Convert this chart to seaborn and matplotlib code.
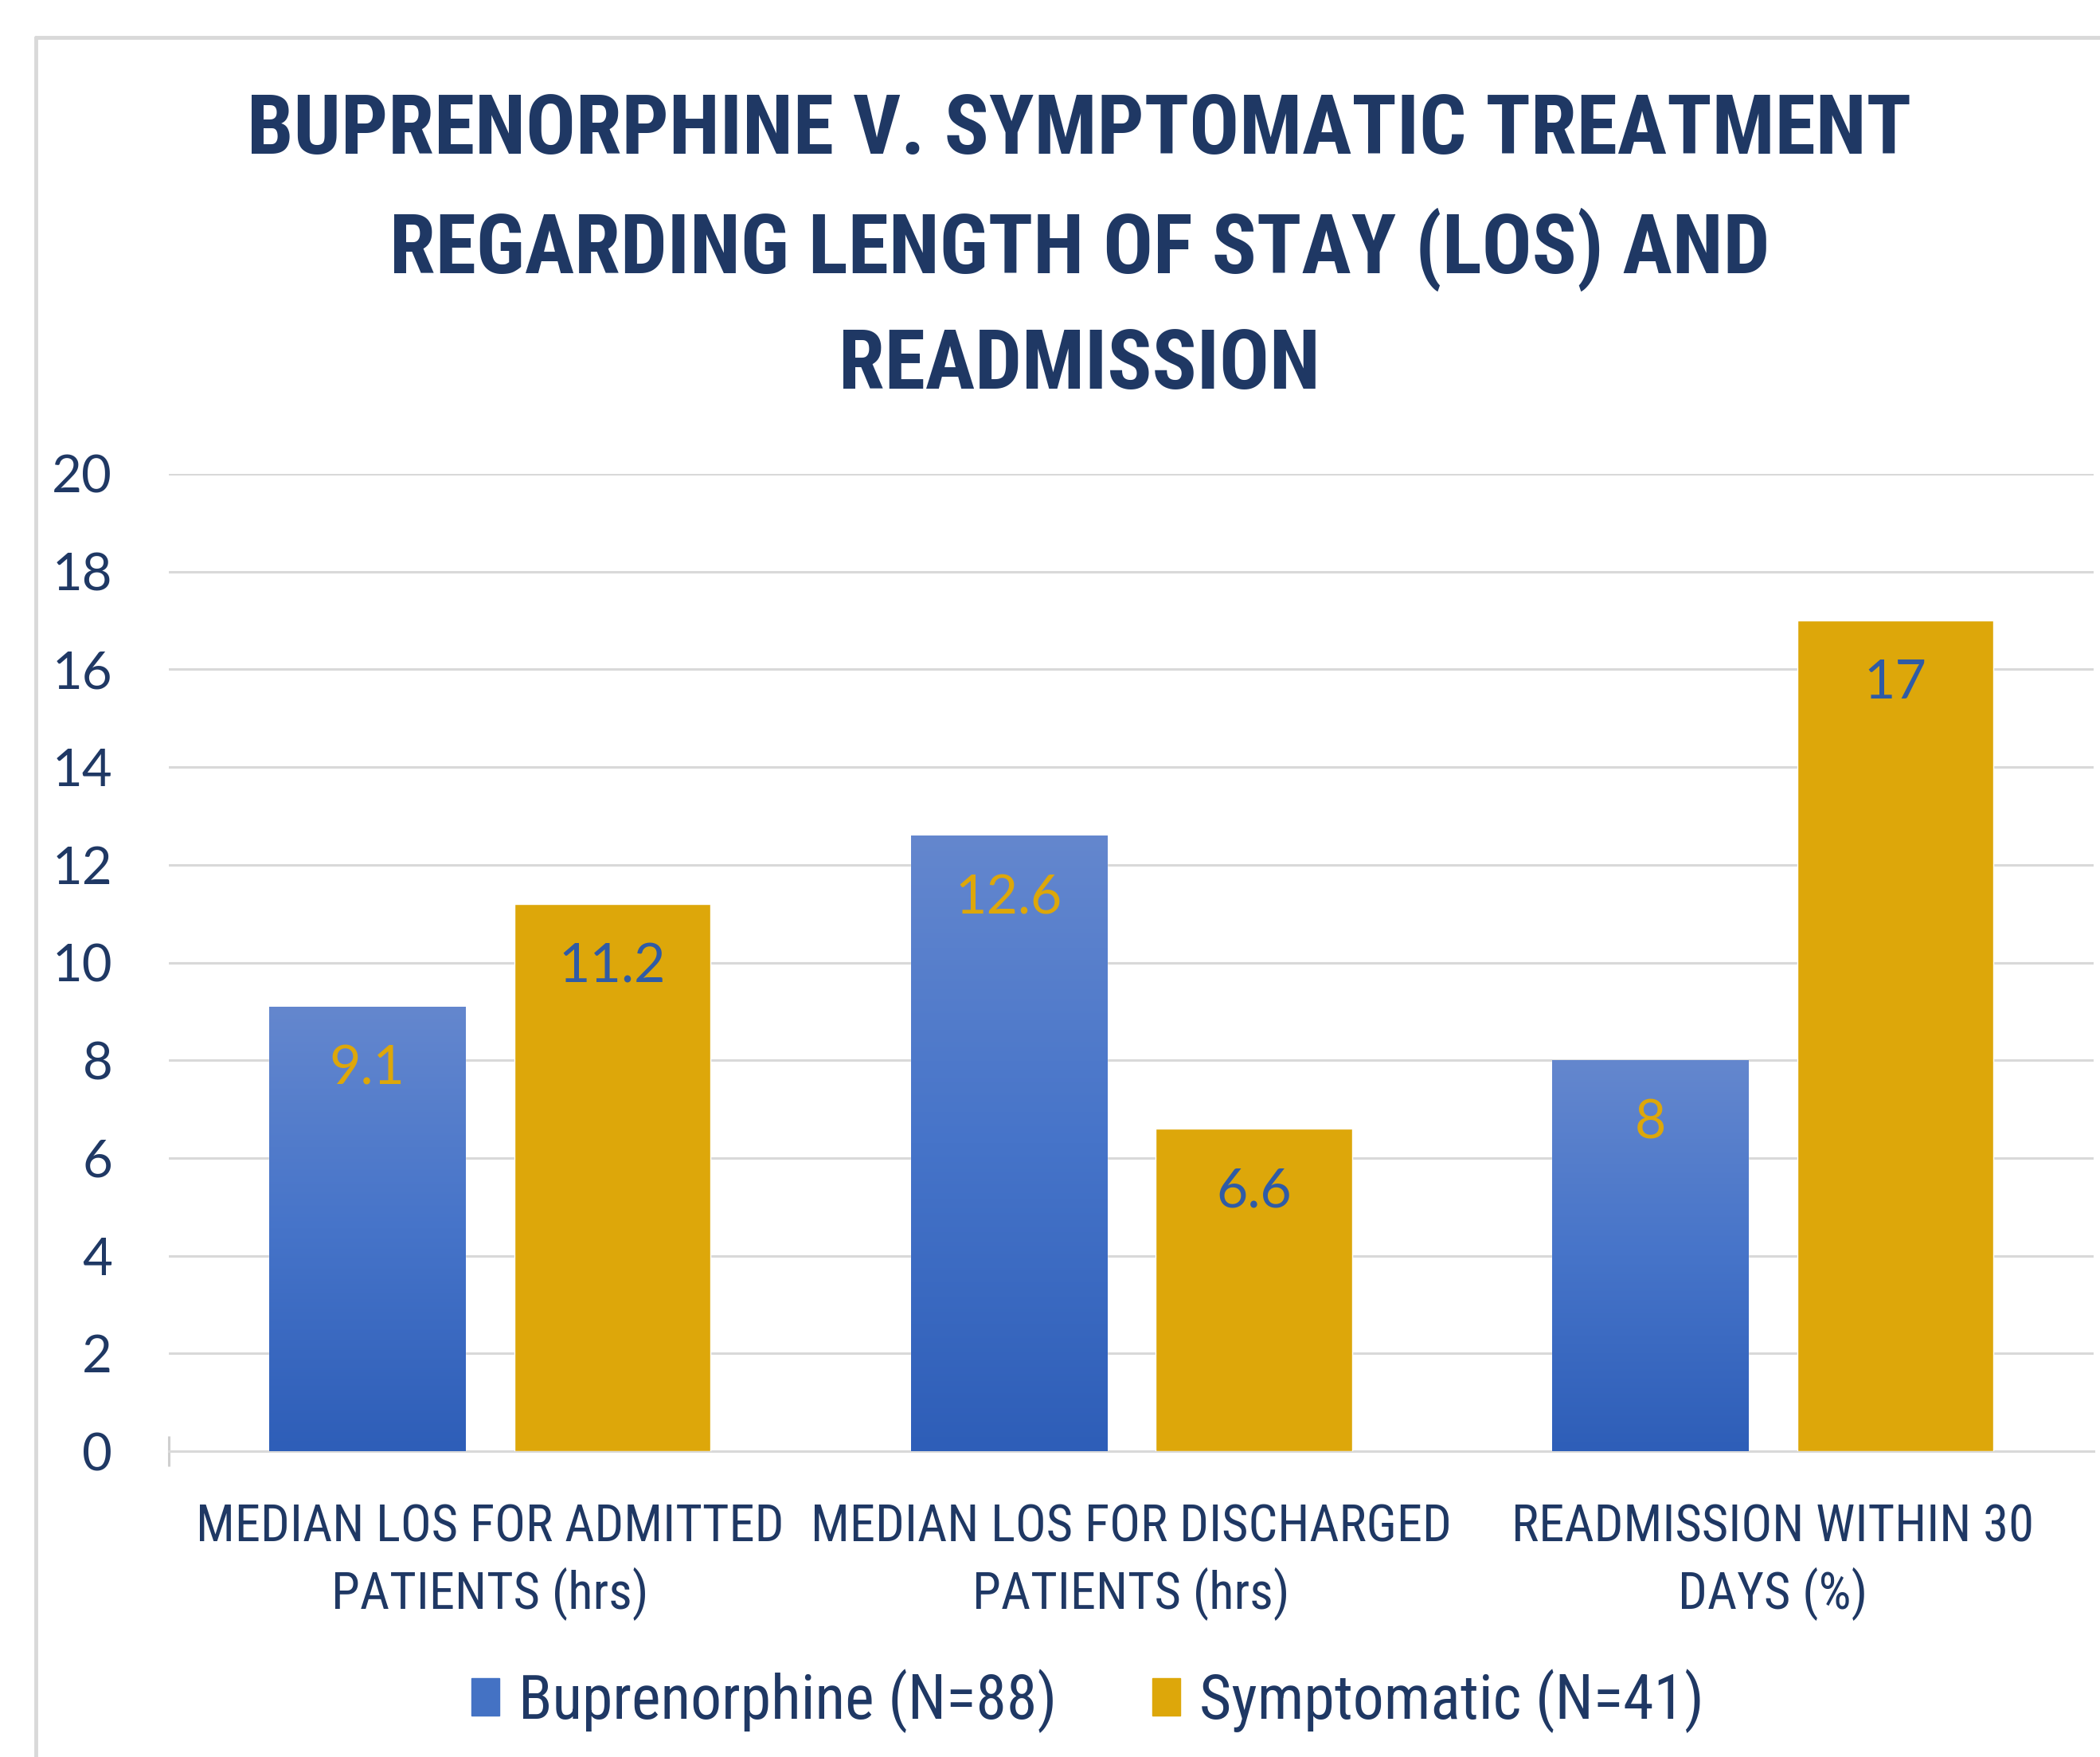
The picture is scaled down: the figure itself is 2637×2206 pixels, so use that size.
import matplotlib
matplotlib.use("Agg")
import matplotlib.pyplot as plt
import numpy as np
import pandas as pd
import seaborn as sns
from matplotlib import font_manager
from matplotlib.colors import LinearSegmentedColormap
from matplotlib.lines import Line2D

# data
categories = ["MEDIAN LOS FOR ADMITTED\nPATIENTS (hrs)",
              "MEDIAN LOS FOR DISCHARGED\nPATIENTS (hrs)",
              "READMISSION WITHIN 30\nDAYS (%)"]
buprenorphine = [9.1, 12.6, 8]
symptomatic = [11.2, 6.6, 17]
groups = ["Buprenorphine (N=88)", "Symptomatic (N=41)"]
y_ticks = [0, 2, 4, 6, 8, 10, 12, 14, 16, 18, 20]
title_lines = ["BUPRENORPHINE V. SYMPTOMATIC TREATMENT",
               "REGARDING LENGTH OF STAY (LOS) AND",
               "READMISSION"]

navy = "#1F3864"
blue = "#4472C4"
gold = "#DDA70A"
grid_grey = "#D9D9D9"

# pick a narrow font if one is installed
names = {f.name for f in font_manager.fontManager.ttflist}
narrow = next((n for n in ["Roboto Condensed", "Liberation Sans Narrow",
                           "DejaVu Sans Condensed", "Open Sans Condensed"]
               if n in names), None)
shrink = 1.0 if narrow else 0.72
narrow = narrow or "DejaVu Sans"
plain = "Lato" if "Lato" in names else "DejaVu Sans"

df = pd.DataFrame({
    "measure": categories * 2,
    "value": buprenorphine + symptomatic,
    "group": [groups[0]] * 3 + [groups[1]] * 3,
})

sns.set_style("white")
fig = plt.figure(figsize=(26.37, 22.06), dpi=100)
ax = fig.add_axes([0.0804, 0.174, 0.9166, 0.5563])

sns.barplot(data=df, x="measure", y="value", hue="group",
            palette=[blue, gold], saturation=1, width=0.764, gap=0.2,
            errorbar=None, ax=ax, zorder=3)

# gradient on the blue bars
cmap = LinearSegmentedColormap.from_list("bl", ["#2E5EB8", "#4674C9", "#6487CE"])
grad = np.linspace(0, 1, 256).reshape(-1, 1)
for bar in ax.containers[0]:
    x0 = bar.get_x()
    w = bar.get_width()
    h = bar.get_height()
    im = ax.imshow(grad, cmap=cmap, origin="lower", aspect="auto",
                   extent=(x0, x0 + w, 0, h), zorder=4)
    im.set_clip_path(bar)

# value labels inside the bars
for cont, col in zip(ax.containers, [gold, "#2F5BA6"]):
    for bar in cont:
        h = bar.get_height()
        ax.annotate(f"{h:g}", (bar.get_x() + bar.get_width() / 2, h),
                    xytext=(0, -57), textcoords="offset points",
                    ha="center", va="center", fontsize=49, color=col,
                    family=plain, zorder=6)

ax.set_xlim(-0.5, 2.5)
ax.set_ylim(0, 20)
ax.set_yticks(y_ticks)
ax.set_xlabel("")
ax.set_ylabel("")
ax.grid(axis="y", color=grid_grey, linewidth=2.2, zorder=0)
ax.set_axisbelow(True)
for s in ["left", "right", "top"]:
    ax.spines[s].set_visible(False)
ax.spines["bottom"].set_color(grid_grey)
ax.spines["bottom"].set_linewidth(2.2)

ax.tick_params(axis="y", length=0, pad=51, labelsize=47, labelcolor=navy)
ax.tick_params(axis="x", which="major", length=0, pad=46,
               labelsize=46.5 * shrink, labelcolor=navy)
for t in ax.get_yticklabels():
    t.set_family(plain)
for t in ax.get_xticklabels():
    t.set_family(narrow)
    t.set_linespacing(1.38)
ax.set_xticks([-0.5], minor=True)
ax.tick_params(axis="x", which="minor", bottom=True, length=28, width=2.2,
               direction="inout", color="#CFCFCF")

# legend
ax.get_legend().remove()
handles = [plt.Rectangle((0, 0), 1, 1, color=c) for c in [blue, gold]]
fig.legend(handles, groups, loc="center", bbox_to_anchor=(0.518, 0.0317),
           ncol=2, frameon=False, handlelength=0.45, handleheight=0.55,
           handletextpad=0.3, columnspacing=1.55,
           prop={"family": narrow, "size": 56 * shrink}, labelcolor=navy)

# title
for line, yb in zip(title_lines, [0.9125, 0.8445, 0.7788]):
    fig.text(0.514, yb, line, ha="center", va="baseline", color=navy,
             fontsize=75 * shrink, fontweight="bold", family=narrow)

# thin frame lines on top and left
fig.add_artist(Line2D([0.0171, 1], [0.9787, 0.9787], color=grid_grey, lw=3.5))
fig.add_artist(Line2D([0.0171, 0.0171], [0, 0.9787], color=grid_grey, lw=3.5))

fig.savefig("out.png", dpi=100, facecolor="white")
